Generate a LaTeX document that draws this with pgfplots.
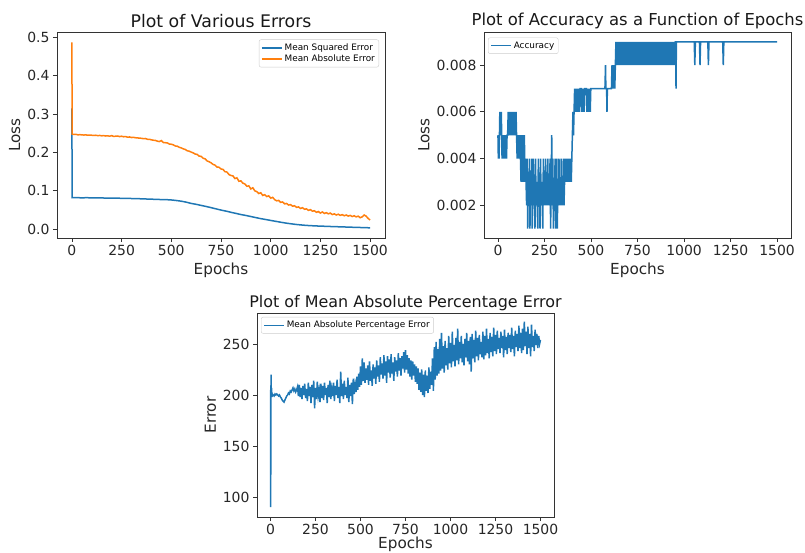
\documentclass[border=0pt]{standalone}
\usepackage{fontspec}
\setmainfont{DejaVu Sans}
\usepackage{pgfplots}
\pgfplotsset{compat=1.18}
\definecolor{tabblue}{HTML}{1F77B4}
\definecolor{taborange}{HTML}{FF7F0E}
\pgfplotsset{
  myax/.style={
    scale only axis,
    axis line style={black!80, line width=0.8bp},
    tick align=outside,
    major tick length=4bp,
    tick style={black!80, line width=0.8bp},
    xtick pos=left, ytick pos=left,
    /pgf/number format/assume math mode=true,
    /pgf/number format/1000 sep={},
    tick label style={font=\fontsize{14}{14}\selectfont, black!85},
    label style={font=\fontsize{15.3}{16}\selectfont, black!85},
    scaled ticks=false,
    legend cell align=left,
    legend style={draw=black!20, rounded corners=2bp, font=\fontsize{8.9}{10.5}\selectfont, row sep=-1bp, inner sep=2bp},
    legend image code/.code={\draw[#1, line width=1.6bp] (0bp,0bp) -- (20bp,0bp);},
    xmin=-75, xmax=1575,
    xtick={0,250,500,750,1000,1250,1500},
  }
}
\begin{document}
\begin{tikzpicture}
\useasboundingbox (0,0) rectangle (805bp,553bp);
% ---------------- Plot 1 ----------------
\begin{axis}[myax, at={(57bp,315bp)}, anchor=south west,
  width=328bp, height=205.5bp,
  ymin=-0.023, ymax=0.513,
  ytick={0,0.1,0.2,0.3,0.4,0.5},
  yticklabel style={/pgf/number format/.cd, fixed, fixed zerofill, precision=1},
  title style={font=\fontsize{17.4}{18}\selectfont, black!90, yshift=-5bp},
  title={Plot of Various Errors}, xlabel={Epochs}, ylabel={Loss},
  legend style={at={(1,1)}, anchor=north east, xshift=-6bp, yshift=-7bp}]
\addplot[tabblue, line width=1.5bp] coordinates {(0,0.315)(1,0.082)(25,0.0822)(50,0.0818)(75,0.0821)(100,0.0817)(125,0.0815)(150,0.0814)(175,0.0812)(200,0.081)(225,0.0808)(250,0.0806)(275,0.0802)(300,0.0800)(325,0.0795)(350,0.0793)(375,0.0787)(400,0.0782)(425,0.0778)(450,0.0772)(475,0.0770)(500,0.0762)(525,0.0748)(550,0.0730)(575,0.0705)(600,0.0672)(625,0.0648)(650,0.0620)(675,0.0592)(700,0.0562)(725,0.0530)(750,0.0498)(775,0.0472)(800,0.0440)(825,0.0412)(850,0.0382)(875,0.0358)(900,0.0330)(925,0.0302)(950,0.0275)(975,0.0252)(1000,0.0228)(1025,0.0205)(1050,0.0182)(1075,0.0160)(1100,0.0142)(1125,0.0125)(1150,0.0112)(1175,0.0100)(1200,0.0092)(1225,0.0085)(1250,0.0080)(1275,0.0075)(1300,0.0070)(1325,0.0066)(1350,0.0061)(1375,0.0057)(1400,0.0052)(1425,0.0048)(1450,0.0044)(1475,0.0040)(1500,0.0035)};
\addlegendentry{Mean Squared Error}
\addplot[taborange, line width=1.5bp] coordinates {(0,0.487)(1,0.248)(10,0.247)(20,0.2475)(30,0.246)(40,0.2465)(50,0.246)(60,0.2455)(70,0.246)(80,0.245)(90,0.2455)(100,0.245)(110,0.2445)(120,0.245)(130,0.244)(140,0.2445)(150,0.2435)(160,0.244)(170,0.243)(180,0.2435)(190,0.2425)(200,0.244)(210,0.242)(220,0.2425)(230,0.243)(240,0.2415)(250,0.2425)(260,0.241)(270,0.2415)(280,0.240)(290,0.2405)(300,0.239)(310,0.2395)(320,0.2385)(330,0.238)(340,0.2375)(350,0.237)(360,0.236)(370,0.2365)(380,0.2345)(390,0.2345)(400,0.233)(410,0.232)(420,0.2315)(430,0.2295)(440,0.2285)(450,0.231)(460,0.226)(470,0.2255)(480,0.225)(490,0.222)(500,0.2215)(510,0.220)(520,0.217)(530,0.2165)(540,0.2135)(550,0.212)(560,0.2095)(570,0.208)(580,0.2045)(590,0.2035)(600,0.201)(610,0.199)(620,0.196)(630,0.195)(640,0.1905)(650,0.190)(660,0.185)(670,0.1835)(680,0.178)(690,0.176)(700,0.173)(710,0.169)(720,0.167)(730,0.162)(740,0.1615)(750,0.157)(760,0.156)(770,0.150)(780,0.149)(790,0.1425)(800,0.140)(810,0.139)(820,0.132)(830,0.134)(840,0.125)(850,0.126)(860,0.120)(870,0.118)(880,0.112)(890,0.113)(900,0.105)(910,0.108)(920,0.100)(930,0.098)(940,0.093)(950,0.095)(960,0.088)(970,0.090)(980,0.085)(990,0.087)(1000,0.081)(1010,0.083)(1020,0.077)(1030,0.074)(1040,0.075)(1050,0.070)(1060,0.071)(1070,0.066)(1080,0.067)(1090,0.063)(1100,0.064)(1110,0.060)(1120,0.061)(1130,0.057)(1140,0.058)(1150,0.054)(1160,0.056)(1170,0.052)(1180,0.053)(1190,0.049)(1200,0.051)(1210,0.047)(1220,0.048)(1230,0.044)(1240,0.046)(1250,0.042)(1260,0.045)(1270,0.041)(1280,0.043)(1290,0.040)(1300,0.042)(1310,0.038)(1320,0.040)(1330,0.037)(1340,0.039)(1350,0.036)(1360,0.038)(1370,0.035)(1380,0.037)(1390,0.034)(1400,0.036)(1410,0.033)(1420,0.035)(1430,0.032)(1440,0.034)(1450,0.030)(1460,0.032)(1470,0.037)(1480,0.034)(1490,0.028)(1500,0.024)};
\addlegendentry{Mean Absolute Error}
\end{axis}
% ---------------- Plot 2 ----------------
\begin{axis}[myax, at={(484bp,315bp)}, anchor=south west,
  width=307bp, height=205.5bp,
  ymin=0.0006, ymax=0.0094,
  ytick={0.002,0.004,0.006,0.008},
  yticklabel style={/pgf/number format/.cd, fixed, fixed zerofill, precision=3},
  title style={font=\fontsize{16.5}{18}\selectfont, black!90, yshift=-6bp},
  title={Plot of Accuracy as a Function of Epochs}, xlabel={Epochs}, ylabel={Loss},
  legend style={at={(0,1)}, anchor=north west, xshift=4bp, yshift=-5bp}]
\addplot[tabblue, line width=1.5bp] coordinates {(0,0.005)(2,0.004)(4,0.005)(6,0.004)(8,0.005)(10,0.006)(12,0.005)(14,0.006)(16,0.005)(18,0.006)(20,0.005)(22,0.004)(25,0.005)(28,0.004)(31,0.005)(34,0.004)(37,0.005)(40,0.004)(43,0.005)(46,0.004)(49,0.005)(52,0.005)(55,0.006)(58,0.005)(61,0.006)(64,0.005)(67,0.006)(70,0.005)(73,0.006)(76,0.005)(79,0.006)(82,0.005)(85,0.006)(88,0.005)(91,0.006)(94,0.005)(97,0.006)(100,0.005)(103,0.004)(106,0.005)(109,0.004)(112,0.005)(115,0.004)(118,0.005)(121,0.004)(124,0.003)(127,0.005)(130,0.003)(133,0.004)(136,0.005)(139,0.003)(142,0.005)(145,0.003)(148,0.004)(151,0.003)(154,0.002)(157,0.004)(160,0.001)(163,0.003)(166,0.002)(169,0.004)(172,0.001)(175,0.003)(178,0.002)(181,0.004)(184,0.001)(187,0.002)(190,0.004)(193,0.002)(196,0.003)(199,0.001)(202,0.004)(205,0.002)(208,0.003)(211,0.002)(214,0.001)(217,0.004)(220,0.002)(223,0.003)(226,0.001)(229,0.004)(232,0.002)(235,0.003)(238,0.002)(241,0.001)(244,0.004)(247,0.002)(250,0.003)(253,0.002)(256,0.004)(259,0.002)(262,0.003)(265,0.002)(268,0.004)(271,0.002)(274,0.003)(277,0.002)(280,0.004)(283,0.001)(286,0.003)(289,0.005)(292,0.002)(295,0.004)(298,0.001)(301,0.003)(304,0.002)(307,0.004)(310,0.001)(313,0.002)(316,0.004)(319,0.001)(322,0.003)(325,0.002)(328,0.004)(331,0.002)(334,0.003)(337,0.002)(340,0.004)(343,0.002)(346,0.003)(349,0.002)(352,0.004)(355,0.002)(358,0.003)(361,0.004)(364,0.003)(367,0.004)(370,0.003)(373,0.004)(376,0.003)(379,0.004)(382,0.003)(385,0.004)(388,0.003)(391,0.004)(394,0.003)(397,0.004)(400,0.005)(403,0.006)(406,0.005)(409,0.006)(412,0.007)(415,0.006)(418,0.007)(421,0.006)(424,0.007)(427,0.006)(430,0.007)(433,0.006)(436,0.007)(439,0.006)(442,0.007)(448,0.007)(451,0.006)(454,0.007)(457,0.006)(460,0.007)(463,0.006)(466,0.007)(475,0.007)(478,0.006)(481,0.007)(484,0.006)(487,0.007)(490,0.006)(493,0.007)(496,0.006)(499,0.007)(502,0.007)(575,0.007)(578,0.008)(580,0.007)(584,0.007)(586,0.006)(588,0.007)(610,0.007)(613,0.008)(616,0.007)(619,0.008)(622,0.007)(625,0.008)(628,0.007)(631,0.008)(634,0.009)(638,0.008)(642,0.009)(646,0.008)(650,0.009)(654,0.008)(658,0.009)(662,0.008)(666,0.009)(670,0.008)(674,0.009)(678,0.008)(682,0.009)(686,0.008)(690,0.009)(694,0.008)(698,0.009)(702,0.008)(706,0.009)(710,0.008)(714,0.009)(718,0.008)(722,0.009)(726,0.008)(730,0.009)(734,0.008)(738,0.009)(742,0.008)(746,0.009)(750,0.008)(754,0.009)(758,0.008)(762,0.009)(766,0.008)(770,0.009)(774,0.008)(778,0.009)(782,0.008)(786,0.009)(790,0.008)(794,0.009)(798,0.008)(802,0.009)(806,0.008)(810,0.009)(814,0.008)(818,0.009)(822,0.008)(826,0.009)(830,0.008)(834,0.009)(838,0.008)(842,0.009)(846,0.008)(850,0.009)(854,0.008)(858,0.009)(862,0.008)(866,0.009)(870,0.008)(874,0.009)(878,0.008)(882,0.009)(886,0.008)(890,0.009)(894,0.008)(898,0.009)(902,0.008)(906,0.009)(910,0.008)(914,0.009)(918,0.008)(922,0.009)(926,0.008)(930,0.009)(934,0.008)(938,0.009)(942,0.008)(946,0.009)(950,0.008)(953,0.009)(955,0.009)(957,0.007)(959,0.009)(1055,0.009)(1058,0.008)(1061,0.009)(1083,0.009)(1086,0.008)(1089,0.009)(1128,0.009)(1131,0.008)(1134,0.009)(1208,0.009)(1211,0.008)(1214,0.009)(1500,0.009)};
\addlegendentry{Accuracy}
\end{axis}
% ---------------- Plot 3 ----------------
\begin{axis}[myax, at={(257bp,36bp)}, anchor=south west,
  width=297bp, height=204bp,
  ymin=80.4, ymax=280.4,
  ytick={100,150,200,250},
  title style={font=\fontsize{16}{18}\selectfont, black!90, yshift=-7bp},
  xlabel style={yshift=5bp},
  title={Plot of Mean Absolute Percentage Error}, xlabel={Epochs}, ylabel={Error},
  legend style={at={(0,1)}, anchor=north west, xshift=4bp, yshift=-4bp}]
\addplot[tabblue, line width=1.5bp] coordinates {(0,205)(1,90)(2,175)(3,220)(4,200)(6,207)(8,198)(10,201)(15,200)(20,199)(25,201)(30,200)(35,201)(40,200)(45,199)(50,200)(55,198)(60,197)(65,195)(70,194)(75,193)(80,195)(85,197)(90,199)(95,200)(100,202)(105,201)(110,204)(115,203)(120,205)(125,207)(130,204)(135,206)(140,203)(145,205)
(150,208)(155,199)(160,210)(165,198)(170,207)(175,196)(180,209)(185,200)(190,211)(195,197)(200,206)(205,194)(210,212)(215,199)(220,208)(225,192)(230,210)(235,198)(240,214)(245,187)(250,207)(255,196)(260,213)(265,199)(270,205)(275,193)(280,211)(285,197)(290,209)(295,195)(300,212)(305,200)(310,207)(315,192)(320,210)(325,198)(330,214)(335,196)(340,206)(345,199)(350,212)(355,194)(360,209)(365,200)(370,215)(375,197)(380,208)(385,192)(390,223)(395,199)(400,211)(405,196)(410,214)(415,200)(420,208)(425,197)(430,217)(435,193)(440,210)(445,199)(450,212)(455,191)(460,216)(465,201)
(470,210)(475,203)(480,218)(485,205)(490,221)(495,208)(500,228)(505,210)(510,236)(515,214)(520,232)(525,212)(530,226)(535,215)(540,229)(545,210)(550,233)(555,214)(560,224)(565,209)(570,230)(575,216)(580,227)(585,211)(590,234)(595,218)(600,229)(605,213)(610,237)(615,220)(620,231)(625,216)(630,239)(635,219)(640,233)(645,212)(650,238)(655,222)(660,235)(665,217)(670,240)(675,221)(680,232)(685,214)(690,237)(695,223)(700,234)(705,218)(710,241)(715,224)(720,236)(725,219)(730,238)(735,226)(740,242)(745,222)(750,244)(755,225)(760,239)(765,221)(770,236)(775,218)(780,234)(785,215)(790,233)(795,219)(800,230)(805,213)(810,228)(815,211)(820,226)(825,205)(830,222)(835,203)(840,225)(845,200)(850,220)(855,198)(860,224)(865,204)(870,219)(875,202)(880,227)(885,206)(890,223)(895,210)
(900,236)(905,204)(910,247)(915,215)(920,252)(925,219)(930,245)(935,221)(940,255)(945,224)(950,261)(955,226)(960,248)(965,222)(970,253)(975,229)(980,246)(985,225)(990,258)(995,231)(1000,251)(1005,227)(1010,262)(1015,233)(1020,249)(1025,228)(1030,256)(1035,234)(1040,265)(1045,230)(1050,252)(1055,236)(1060,258)(1065,232)(1070,250)(1075,229)(1080,255)(1085,237)(1090,261)(1095,233)(1100,253)(1105,230)(1110,257)(1115,223)(1120,260)(1125,236)(1130,254)(1135,232)(1140,263)(1145,238)(1150,256)(1155,234)(1160,259)(1165,240)(1170,252)(1175,237)(1180,262)(1185,235)(1190,258)(1195,239)(1200,265)(1205,241)(1210,255)(1215,236)(1220,261)(1225,242)(1230,257)(1235,238)(1240,266)(1245,243)(1250,259)(1255,240)(1260,263)(1265,245)(1270,256)(1275,241)(1280,262)(1285,246)(1290,258)(1295,237)(1300,264)(1305,244)(1310,257)(1315,240)(1320,261)(1325,246)(1330,259)(1335,242)(1340,266)(1345,245)(1350,258)(1355,238)(1360,263)(1365,247)(1370,260)(1375,243)(1380,268)(1385,246)(1390,261)(1395,241)(1400,265)(1405,244)(1410,272)(1415,248)(1420,262)(1425,240)(1430,267)(1435,246)(1440,260)(1445,238)(1450,269)(1455,247)(1460,258)(1465,243)(1470,264)(1475,249)(1480,260)(1485,246)(1490,258)(1495,250)(1500,254)};
\addlegendentry{Mean Absolute Percentage Error}
\end{axis}
\end{tikzpicture}
\end{document}
